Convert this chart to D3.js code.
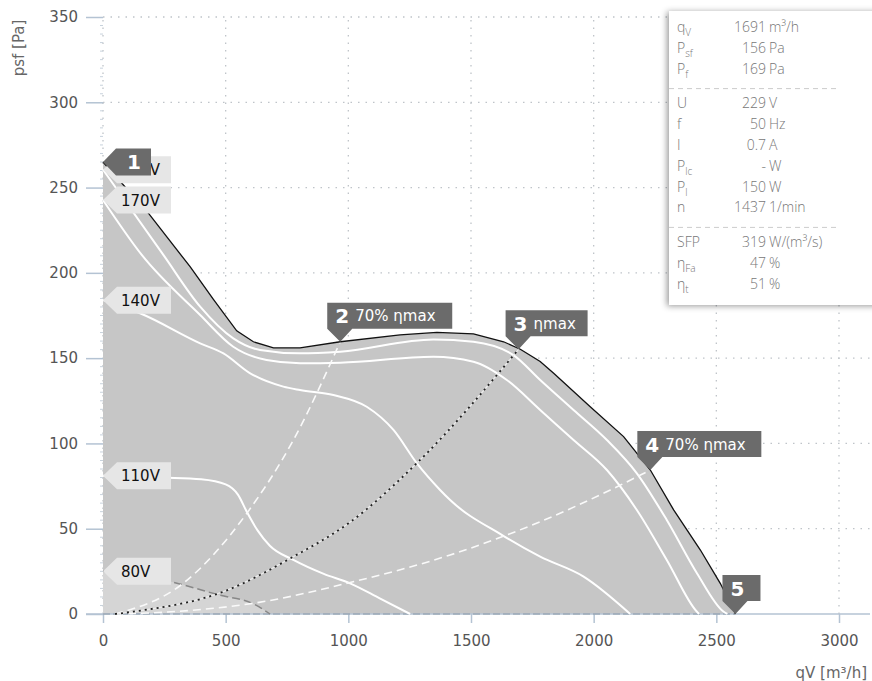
<!DOCTYPE html>
<html>
<head>
<meta charset="utf-8">
<script src="https://cdn.jsdelivr.net/npm/d3@7"></script>
<style>
  body { margin: 0; background: #fff; }
  svg { display: block; font-family: "DejaVu Sans", sans-serif; }
</style>
</head>
<body>
<div id="chart"></div>
<script>
'use strict'

////////////////////////////////////
/////////////// data ///////////////
////////////////////////////////////

// points: [qV m³/h, psf Pa]
const envelope = [[0, 265], [185, 235], [355, 203.6], [450, 184.5], [545, 166], [613, 159.6], [695, 156], [803, 156],
    [967, 159.6], [1211, 163.6], [1361, 165.1], [1510, 164.2], [1633, 159.6], [1701, 155.2], [1782, 148], [1837, 141.1],
    [1986, 121.5], [2122, 104], [2231, 84.4], [2326, 61], [2435, 37.5], [2516, 18], [2571, 2.3], [2578, 0]]

const curve200V = [[0, 260.5], [246, 210.5], [396, 180.2], [531, 161.6], [640, 154.8], [803, 152.8], [967, 153.8],
    [1347, 161], [1510, 159.6], [1673, 151.8], [1782, 137.2], [1918, 119.6], [2054, 102], [2176, 82.5], [2298, 55.1],
    [2421, 23.9], [2530, 1.3], [2545, 0]]

const curve170V = [[0, 242.7], [158, 210.5], [396, 175.3], [531, 156.7], [667, 148.9], [803, 147], [967, 147.3],
    [1347, 150.8], [1510, 147.9], [1646, 137.2], [1782, 119.6], [1918, 102], [2054, 84.4], [2176, 61], [2298, 31.7],
    [2421, 1.3], [2430, 0]]

const curve140V = [[0, 184], [151, 176.3], [396, 158.7], [491, 152.8], [600, 141.1], [735, 133.3], [803, 131.3],
    [939, 128.4], [1075, 121.5], [1184, 107.9], [1279, 88.4], [1374, 72.7], [1415, 66.8], [1630, 46], [1782, 33.6],
    [1959, 21.9], [2149, 0]]

const curve110V = [[0, 81], [250, 80], [400, 79], [500, 76], [550, 70], [586, 60], [630, 49], [680, 40], [776, 31.7],
    [900, 23.5], [1007, 18], [1130, 9], [1252, 0]]

const curve80V = [[0, 25], [273, 19], [477, 11], [613, 6], [681, 0]]

const voltLabels = ['200V', '170V', '140V', '110V', '80V']

// system lines through the operating points
const line70Low = [[49, 0], [327, 18], [586, 59], [776, 102], [967, 159.6]]
const lineEtaMax = [[49, 0], [124, 1.4], [491, 13.1], [776, 33.6], [1001, 53.2], [1279, 88.4], [1694, 155.2]]
const line70High = [[49, 0], [300, 1.5], [627, 6.6], [994, 18], [1415, 34.6], [1782, 54.1], [2068, 72.7], [2231, 84.4]]

const opNumbers = ['1', '2', '3', '4', '5']
const opTexts = ['', '70% ηmax', 'ηmax', '70% ηmax', '']
const opQ = [0, 967, 1694, 2231, 2578]
const opP = [265, 159.6, 155.2, 84.4, 0]

const xTicks = [0, 500, 1000, 1500, 2000, 2500, 3000]
const yTicks = [0, 50, 100, 150, 200, 250, 300, 350]

const infoNames = ['q', 'P', 'P', 'U', 'f', 'I', 'P', 'P', 'n', 'SFP', 'η', 'η']
const infoSubs = ['V', 'sf', 'f', '', '', '', 'lc', 'l', '', '', 'Fa', 't']
const infoNumbers = ['1691', '156', '169', '229', '50', '0.7', '-', '150', '1437', '319', '47', '51']
const infoUnits = ['m³/h', 'Pa', 'Pa', 'V', 'Hz', 'A', 'W', 'W', '1/min', 'W/(m³/s)', '%', '%']
const infoGroups = [0, 0, 0, 1, 1, 1, 1, 1, 1, 2, 2, 2]

////////////////////////////////////
//////////// svg setup /////////////
////////////////////////////////////

const svgWidth = 872
const svgHeight = 681
const font = '"DejaVu Sans", sans-serif'

const svg = d3.select('#chart')
    .append('svg')
    .attr('width', svgWidth)
    .attr('height', svgHeight)

const x = d3.scaleLinear().domain([0, 3000]).range([103, 839])
const y = d3.scaleLinear().domain([0, 350]).range([614, 17])
const xEnd = 870

const defs = svg.append('defs')
defs.append('filter').attr('id', 'shadow')
    .attr('x', '-10%').attr('y', '-10%').attr('width', '130%').attr('height', '130%')
    .append('feDropShadow')
    .attr('dx', -2).attr('dy', 1).attr('stdDeviation', 3)
    .attr('flood-color', '#000').attr('flood-opacity', 0.4)

////////////////////////////////////
/////////////// grid ///////////////
////////////////////////////////////

const grid = svg.append('g')
    .attr('stroke', '#bfc4c9')
    .attr('stroke-width', 1.3)
    .attr('stroke-dasharray', '1.5,6')

grid.selectAll('.vgrid')
    .data(xTicks)
    .join('line')
    .attr('x1', d => x(d)).attr('x2', d => x(d))
    .attr('y1', y(0)).attr('y2', y(350))

grid.selectAll('.hgrid')
    .data(yTicks.filter(d => d > 0))
    .join('line')
    .attr('x1', x(0)).attr('x2', xEnd)
    .attr('y1', d => y(d)).attr('y2', d => y(d))

////////////////////////////////////
/////////////// areas //////////////
////////////////////////////////////

const area = d3.area().x(d => x(d[0])).y0(y(0)).y1(d => y(d[1]))
const lineLin = d3.line().x(d => x(d[0])).y(d => y(d[1]))
const lineSmooth = d3.line().x(d => x(d[0])).y(d => y(d[1])).curve(d3.curveMonotoneX)

svg.append('path')
    .attr('d', area(envelope))
    .attr('fill', '#c6c6c6')

svg.append('path')
    .attr('d', area.curve(d3.curveMonotoneX)(curve80V))
    .attr('fill', '#d5d5d5')

////////////////////////////////////
/////////////// axes ///////////////
////////////////////////////////////

const yAxis = svg.append('g')
    .attr('transform', `translate(${x(0)},0)`)
    .call(d3.axisLeft(y).tickValues(yTicks).tickFormat(d3.format('d')).tickSize(17).tickPadding(8))
yAxis.attr('font-family', font).attr('font-size', 15)
yAxis.select('.domain').remove()
yAxis.selectAll('line').attr('stroke', '#b4c3d3').attr('stroke-width', 1.5)
yAxis.selectAll('text').attr('fill', '#555')

// minor ticks every 5 Pa
svg.append('g')
    .selectAll('line')
    .data(d3.range(5, 350, 5).filter(d => d % 50 !== 0))
    .join('line')
    .attr('x1', x(0) - 3).attr('x2', x(0))
    .attr('y1', d => y(d)).attr('y2', d => y(d))
    .attr('stroke', '#c8d2dc')

const xAxis = svg.append('g')
    .attr('transform', `translate(0,${y(0)})`)
    .call(d3.axisBottom(x).tickValues(xTicks).tickFormat(d3.format('d')).tickSize(9).tickPadding(12))
xAxis.attr('font-family', font).attr('font-size', 15)
xAxis.select('.domain').remove()
xAxis.selectAll('line').attr('stroke', '#b4c3d3').attr('stroke-width', 1.5)
xAxis.selectAll('text').attr('fill', '#555')

svg.append('line')
    .attr('x1', x(0) - 17).attr('x2', xEnd)
    .attr('y1', y(0)).attr('y2', y(0))
    .attr('stroke', '#b4c3d3').attr('stroke-width', 1.5)

svg.append('text')
    .attr('x', 867).attr('y', 678)
    .attr('text-anchor', 'end')
    .attr('fill', '#666').attr('font-size', 15)
    .text('qV [m³/h]')

svg.append('text')
    .attr('transform', 'translate(24,48) rotate(-90)')
    .attr('text-anchor', 'middle')
    .attr('fill', '#666').attr('font-size', 15)
    .text('psf [Pa]')

////////////////////////////////////
/////////////// curves /////////////
////////////////////////////////////

// bottom edge of the field
svg.append('line')
    .attr('x1', x(0)).attr('x2', x(2578))
    .attr('y1', y(0)).attr('y2', y(0))
    .attr('stroke', '#8c99a6').attr('stroke-width', 1)
    .attr('stroke-dasharray', '7,3')

svg.append('path')
    .attr('d', lineSmooth(curve80V))
    .attr('fill', 'none')
    .attr('stroke', '#888').attr('stroke-width', 1.5)
    .attr('stroke-dasharray', '8,4')

svg.append('g')
    .attr('fill', 'none')
    .attr('stroke', '#fff')
    .attr('stroke-width', 2)
    .selectAll('path')
    .data([curve200V, curve170V, curve140V, curve110V])
    .join('path')
    .attr('d', lineSmooth)

// system lines
svg.append('g')
    .attr('fill', 'none')
    .attr('stroke', '#fafafa')
    .attr('stroke-width', 1.6)
    .attr('stroke-dasharray', '8,5')
    .selectAll('path')
    .data([line70Low, line70High])
    .join('path')
    .attr('d', lineSmooth)

svg.append('path')
    .attr('d', lineSmooth(lineEtaMax))
    .attr('fill', 'none')
    .attr('stroke', '#ececec').attr('stroke-width', 1.2)

svg.append('path')
    .attr('d', lineSmooth(lineEtaMax))
    .attr('fill', 'none')
    .attr('stroke', '#222').attr('stroke-width', 1.8)
    .attr('stroke-dasharray', '2,4')

svg.append('path')
    .attr('d', lineLin(envelope))
    .attr('fill', 'none')
    .attr('stroke', '#111').attr('stroke-width', 1.3)

////////////////////////////////////
/////////////// labels /////////////
////////////////////////////////////

const voltStarts = [curve200V, curve170V, curve140V, curve110V, curve80V].map(c => c[0][1])

const vLab = svg.append('g')
    .selectAll('g')
    .data(voltLabels)
    .join('g')
    .attr('transform', (d, i) => `translate(${x(0)},${y(voltStarts[i])})`)

vLab.append('path')
    .attr('d', 'M0,0 L14,-13.5 H68 V13.5 H14 Z')
    .attr('fill', '#e6e6e6')

vLab.append('text')
    .attr('x', 18).attr('y', 5.5)
    .attr('font-size', 15).attr('fill', '#111')
    .text(d => d)

// operating points
const opBoxW = [35, 125, 82, 124, 38]

opNumbers.forEach((n, i) => {
    const px = x(opQ[i])
    const py = y(opP[i])
    const g = svg.append('g')
    if (i === 0) {
        g.append('path')
            .attr('d', `M${px},${py} L${px + 13},${py - 13.5} H${px + 13 + opBoxW[i]} V${py + 13.5} H${px + 13} Z`)
            .attr('fill', '#6b6b6b')
        g.append('text')
            .attr('x', px + 31).attr('y', py + 7)
            .attr('text-anchor', 'middle')
            .attr('font-size', 20).attr('font-weight', 'bold').attr('fill', '#fff')
            .text(n)
        return
    }
    const L = px - 13
    const B = py - 13
    const T = B - 26
    const R = L + opBoxW[i]
    g.append('path')
        .attr('d', `M${L},${T} H${R} V${B} H${px + 12} L${px},${py} L${L},${B} Z`)
        .attr('fill', '#6b6b6b')
    g.append('text')
        .attr('x', L + 8).attr('y', T + 20.5)
        .attr('font-size', 20).attr('font-weight', 'bold').attr('fill', '#fff')
        .text(n)
    g.append('text')
        .attr('x', L + 28).attr('y', T + 18.5)
        .attr('font-size', 15).attr('fill', '#fff')
        .text(opTexts[i])
})

////////////////////////////////////
///////////// info box /////////////
////////////////////////////////////

const info = svg.append('g')
    .attr('font-family', '"Open Sans", "DejaVu Sans", sans-serif')
    .attr('font-weight', 300)
    .attr('fill', '#777')

info.append('rect')
    .attr('x', 669).attr('y', 11)
    .attr('width', 220).attr('height', 294)
    .attr('fill', '#fff')
    .attr('filter', 'url(#shadow)')

const rowY = i => 32 + i * 20.8 + infoGroups[i] * 14

info.selectAll('.sep')
    .data([2, 8])
    .join('line')
    .attr('x1', 669).attr('x2', 838)
    .attr('y1', d => rowY(d) + 15).attr('y2', d => rowY(d) + 15)
    .attr('stroke', '#ccc').attr('stroke-dasharray', '5,4')

const rows = info.selectAll('.row')
    .data(infoNames)
    .join('g')

const nameText = rows.append('text')
    .attr('x', 677).attr('y', (d, i) => rowY(i))
    .attr('font-size', 14)
nameText.append('tspan').text(d => d)
nameText.append('tspan')
    .attr('font-size', 10).attr('dy', 4)
    .text((d, i) => infoSubs[i])

rows.append('text')
    .attr('x', 766).attr('y', (d, i) => rowY(i))
    .attr('text-anchor', 'end')
    .attr('font-size', 14)
    .text((d, i) => infoNumbers[i])

rows.append('text')
    .attr('x', 769).attr('y', (d, i) => rowY(i))
    .attr('font-size', 14)
    .text((d, i) => infoUnits[i])
</script>
</body>
</html>
